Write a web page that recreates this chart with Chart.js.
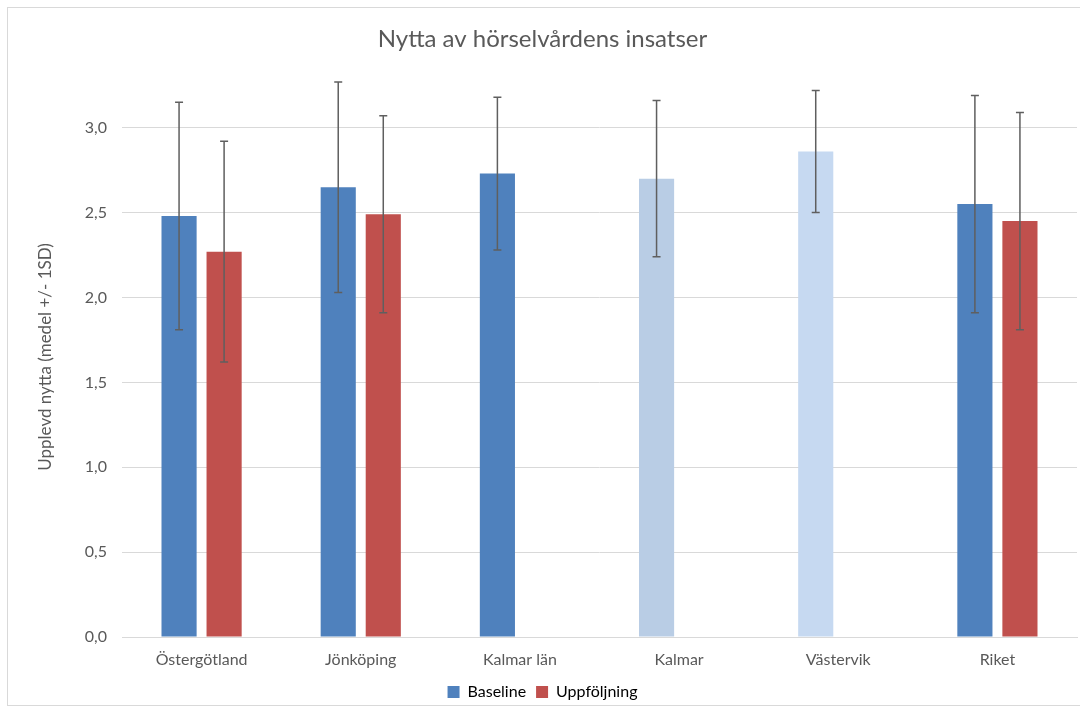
<!DOCTYPE html>
<html>
<head>
<meta charset="utf-8">
<script src="https://cdn.jsdelivr.net/npm/chart.js@4/dist/chart.umd.min.js"></script>
<style>
    body { margin: 0; background: #fff; width: 1080px; height: 709px; overflow: hidden; }
    #frame { position: absolute; left: 7px; top: 7px; width: 1080px; height: 697px; border: 1px solid #d9d9d9; border-right: none; }
    #wrap { position: absolute; left: 0; top: 0; width: 1072px; height: 702px; }
</style>
</head>
<body>
<div id="frame"><div id="wrap"><canvas id="chart"></canvas></div></div>
<script>
const categories = ["Östergötland", "Jönköping", "Kalmar län", "Kalmar", "Västervik", "Riket"];
const baselineMean = [2.48, 2.65, 2.73, 2.70, 2.86, 2.55];
const baselineSD = [0.67, 0.62, 0.45, 0.46, 0.36, 0.64];
const followupMean = [2.27, 2.49, null, null, null, 2.45];
const followupSD = [0.65, 0.58, null, null, null, 0.64];
const yTicks = [0, 0.5, 1, 1.5, 2, 2.5, 3];

const blue = "#4F81BD";
const red = "#C0504D";
const baselineColors = [blue, blue, blue, "#B9CDE5", "#C6D9F1", blue];

const errorBars = {
    id: "errorBars",
    afterDatasetsDraw(chart) {
        const ctx = chart.ctx;
        const y = chart.scales.y;
        const sds = [baselineSD, followupSD];
        ctx.save();
        ctx.strokeStyle = "#5f5f5f";
        ctx.lineWidth = 1.5;
        chart.data.datasets.forEach((ds, di) => {
            const meta = chart.getDatasetMeta(di);
            meta.data.forEach((bar, i) => {
                const v = ds.data[i];
                const sd = sds[di][i];
                if (v == null || sd == null) return;
                const top = y.getPixelForValue(v + sd);
                const bot = y.getPixelForValue(v - sd);
                ctx.beginPath();
                ctx.moveTo(bar.x, top);
                ctx.lineTo(bar.x, bot);
                ctx.moveTo(bar.x - 4, top);
                ctx.lineTo(bar.x + 4, top);
                ctx.moveTo(bar.x - 4, bot);
                ctx.lineTo(bar.x + 4, bot);
                ctx.stroke();
            });
        });
        ctx.restore();
    }
};

Chart.defaults.font.family = "Lato, 'Open Sans', sans-serif";
Chart.defaults.color = "#595959";

new Chart(document.getElementById("chart"), {
    type: "bar",
    data: {
        labels: categories,
        datasets: [
            {
                label: "Baseline",
                data: baselineMean,
                backgroundColor: baselineColors,
                categoryPercentage: 0.566,
                barPercentage: 0.78
            },
            {
                label: "Uppföljning",
                data: followupMean,
                backgroundColor: red,
                categoryPercentage: 0.566,
                barPercentage: 0.78
            }
        ]
    },
    options: {
        responsive: true,
        maintainAspectRatio: false,
        animation: false,
        layout: { padding: { left: 0, right: 3, top: 0, bottom: 0 } },
        plugins: {
            title: {
                display: true,
                text: "Nytta av hörselvårdens insatser",
                font: { size: 24, weight: "normal" },
                color: "#595959",
                padding: { top: 17, bottom: 23 }
            },
            legend: {
                position: "bottom",
                labels: {
                    boxWidth: 12,
                    boxHeight: 12,
                    padding: 10,
                    font: { size: 16 },
                    generateLabels: () => [
                        { text: "Baseline", fillStyle: blue, strokeStyle: blue, lineWidth: 0, datasetIndex: 0 },
                        { text: "Uppföljning", fillStyle: red, strokeStyle: red, lineWidth: 0, datasetIndex: 1 }
                    ]
                }
            },
            tooltip: { enabled: false }
        },
        scales: {
            x: {
                grid: { display: false, drawTicks: false },
                border: { color: "#d9d9d9", width: 1 },
                ticks: { font: { size: 16 }, padding: 13, color: "#595959" },
                afterFit: (s) => { s.height = 37; }
            },
            y: {
                min: 0,
                max: 3.3,
                afterBuildTicks: (s) => { s.ticks = yTicks.map(v => ({ value: v })); },
                grid: { color: "#d9d9d9", drawTicks: false },
                border: { display: false },
                ticks: {
                    font: { size: 16 },
                    padding: 15,
                    color: "#595959",
                    callback: (v) => v.toFixed(1).replace(".", ",")
                },
                title: {
                    display: true,
                    text: "Upplevd nytta (medel +/- 1SD)",
                    font: { size: 17 },
                    color: "#595959",
                    padding: { top: 27, bottom: 0 }
                },
                afterFit: (s) => { s.width = 114; }
            }
        }
    },
    plugins: [errorBars]
});
</script>
</body>
</html>
